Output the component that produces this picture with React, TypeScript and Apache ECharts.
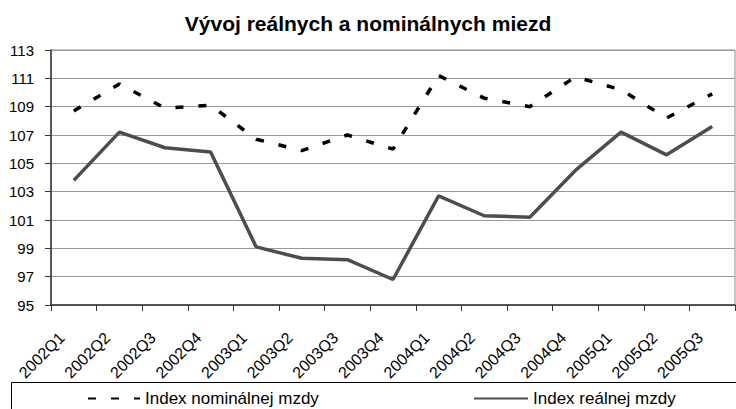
import React, { useEffect, useRef } from "react";
import * as echarts from "echarts";

const TITLE = "Vývoj reálnych a nominálnych miezd";
const categories = [
  "2002Q1", "2002Q2", "2002Q3", "2002Q4",
  "2003Q1", "2003Q2", "2003Q3", "2003Q4",
  "2004Q1", "2004Q2", "2004Q3", "2004Q4",
  "2005Q1", "2005Q2", "2005Q3",
];
const nominalName = "Index nominálnej mzdy";
const realName = "Index reálnej mzdy";
const nominal = [108.7, 110.6, 108.9, 109.1, 106.7, 105.9, 107.0, 106.0, 111.2, 109.6, 109.0, 111.1, 110.2, 108.2, 109.9];
const real = [103.8, 107.2, 106.1, 105.8, 99.1, 98.3, 98.2, 96.8, 102.7, 101.3, 101.2, 104.5, 107.2, 105.6, 107.6];
const Y_MIN = 95;
const Y_MAX = 113;
const Y_STEP = 2;

const FONT = "'Liberation Sans', Arial, sans-serif";

export default function App() {
  const ref = useRef<HTMLDivElement>(null);
  useEffect(() => {
    if (!ref.current) return;
    const chart = echarts.init(ref.current, undefined, { renderer: "svg" });
    const shift = (arr: number[]) => arr.map((v) => +(v - Y_MIN).toFixed(3));
    const legendCommon = {
      top: 390,
      padding: 0,
      itemHeight: 14,
      itemStyle: { opacity: 0 },
      textStyle: { fontFamily: FONT, fontSize: 17, color: "#000" },
    };
    chart.setOption({
      animation: false,
      backgroundColor: "#ffffff",
      title: {
        text: TITLE,
        left: "center",
        top: 8,
        textStyle: { fontFamily: FONT, fontSize: 21, fontWeight: "bold", color: "#000" },
      },
      grid: {
        left: 51,
        right: 1,
        top: 50,
        bottom: 104,
        show: true,
        borderColor: "#8c8c8c",
        borderWidth: 1,
      },
      graphic: [
        {
          type: "rect",
          shape: { x: 11.5, y: 382.5, width: 740, height: 60 },
          style: { fill: "none", stroke: "#000", lineWidth: 1 },
          silent: true,
          z: 0,
        },
      ],
      legend: [
        { ...legendCommon, data: [nominalName], left: 87, itemWidth: 52, itemGap: 8 },
        { ...legendCommon, data: [realName], left: 473, itemWidth: 54 },
      ],
      xAxis: {
        type: "category",
        data: categories,
        boundaryGap: true,
        axisLine: { lineStyle: { color: "#333", width: 1.5 } },
        axisTick: { show: true, length: 6, alignWithLabel: false, lineStyle: { color: "#333" } },
        axisLabel: {
          rotate: 45,
          interval: 0,
          margin: 18,
          padding: [0, 17, 0, 0],
          fontFamily: FONT,
          fontSize: 16,
          color: "#000",
        },
        splitLine: { show: false },
      },
      yAxis: {
        type: "value",
        min: 0,
        max: Y_MAX - Y_MIN,
        interval: Y_STEP,
        axisLine: { show: true, lineStyle: { color: "#333", width: 1.5 } },
        axisTick: { show: true, length: 6, lineStyle: { color: "#333" } },
        axisLabel: {
          margin: 17,
          fontFamily: FONT,
          fontSize: 15,
          color: "#000",
          formatter: (v: number) => String(v + Y_MIN),
        },
        splitLine: { show: true, lineStyle: { color: "#9a9a9a", width: 1 } },
      },
      series: [
        {
          name: nominalName,
          type: "line",
          data: shift(nominal),
          symbol: "none",
          lineStyle: { color: "#000", width: 3.5, type: [8, 15], cap: "butt" },
          itemStyle: { color: "#000" },
          z: 3,
        },
        {
          name: realName,
          type: "line",
          data: shift(real),
          symbol: "none",
          lineStyle: { color: "#4d4d4d", width: 3.5, type: "solid" },
          itemStyle: { color: "#4d4d4d" },
          z: 2,
        },
      ],
    });
    return () => chart.dispose();
  }, []);
  return <div ref={ref} style={{ width: 736, height: 409, position: "absolute", left: 0, top: 0 }} />;
}
